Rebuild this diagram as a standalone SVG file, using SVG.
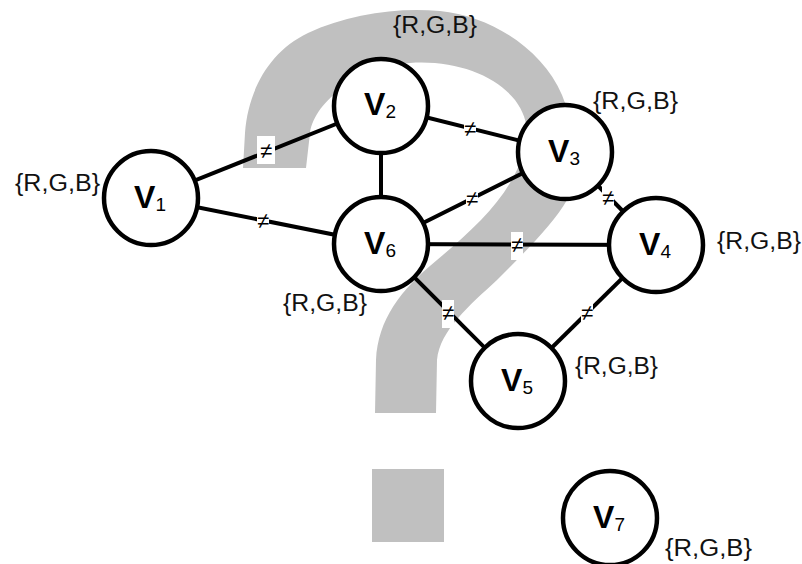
<svg xmlns="http://www.w3.org/2000/svg" width="802" height="564" viewBox="0 0 802 564">
  <style>
    .qm { fill: #c0c0c0; }
    .edge { stroke: #000; stroke-width: 4; fill: none; }
    .node circle { fill: #fff; stroke: #000; stroke-width: 4.5; }
    .name { font-family: "Liberation Sans", Arial, sans-serif; font-size: 32px; font-weight: bold; fill: #000; text-anchor: middle; }
    .sub { font-size: 19px; font-weight: normal; }
    .dom { font-family: "Liberation Sans", Arial, sans-serif; font-size: 23px; fill: #111; }
    .ne-bg { fill: #fff; }
    .ne { font-family: "Liberation Sans", Arial, sans-serif; font-size: 22px; fill: #000; text-anchor: middle; }
  </style>

  <!-- background question mark -->
  <g id="question-mark">
    <path class="qm" d="M 243,168 L 245,133 C 248,92 268,52 308,33 C 348,14 398,7 440,11 C 490,16 542,48 562,95 C 577,132 580,172 567,200 C 555,222 525,252 497,280 C 470,305 440,330 437,360 L 436,413 L 375,413 L 376,360 C 378,320 400,290 437,260 C 475,228 505,200 520,163 C 530,140 530,120 515,100 C 495,75 455,60 410,63 C 360,68 315,100 310,133 L 306,168 Z"/>
    <rect class="qm" x="372" y="469" width="72" height="73"/>
  </g>

  <!-- constraint edges -->
  <g id="edges">
    <line class="edge" x1="151" y1="198" x2="381" y2="106"/>
    <line class="edge" x1="151" y1="198" x2="381" y2="244"/>
    <line class="edge" x1="381" y1="106" x2="381" y2="244"/>
    <line class="edge" x1="381" y1="106" x2="565" y2="152"/>
    <line class="edge" x1="565" y1="152" x2="381" y2="244"/>
    <line class="edge" x1="565" y1="152" x2="656" y2="245"/>
    <line class="edge" x1="381" y1="244" x2="656" y2="245"/>
    <line class="edge" x1="381" y1="244" x2="518" y2="381"/>
    <line class="edge" x1="656" y1="245" x2="518" y2="381"/>

    <!-- inequality marks -->
    <rect class="ne-bg" x="257" y="136" width="18" height="28"/>
    <text class="ne" x="266" y="158">≠</text>
    <rect class="ne-bg" x="257" y="209" width="12" height="22"/>
    <text class="ne" x="263" y="228">≠</text>
    <rect class="ne-bg" x="464" y="117" width="12" height="22"/>
    <text class="ne" x="470" y="136">≠</text>
    <rect class="ne-bg" x="466" y="187" width="12" height="22"/>
    <text class="ne" x="472" y="206">≠</text>
    <rect class="ne-bg" x="602" y="186" width="12" height="22"/>
    <text class="ne" x="608" y="205">≠</text>
    <rect class="ne-bg" x="511" y="232" width="12" height="28"/>
    <text class="ne" x="517" y="252">≠</text>
    <rect class="ne-bg" x="442" y="300" width="12" height="28"/>
    <text class="ne" x="448" y="320">≠</text>
    <rect class="ne-bg" x="581" y="301" width="12" height="22"/>
    <text class="ne" x="587" y="320">≠</text>
  </g>

  <!-- variable nodes -->
  <g id="v1" class="node">
    <circle cx="151" cy="198" r="47"/>
    <text class="name" x="150" y="208">V<tspan class="sub" dy="3">1</tspan></text>
    <text class="dom" x="15" y="191" textLength="85" lengthAdjust="spacingAndGlyphs">{R,G,B}</text>
  </g>
  <g id="v2" class="node">
    <circle cx="381" cy="106" r="47"/>
    <text class="name" x="380" y="115">V<tspan class="sub" dy="3">2</tspan></text>
    <text class="dom" x="393" y="33" textLength="84" lengthAdjust="spacingAndGlyphs">{R,G,B}</text>
  </g>
  <g id="v3" class="node">
    <circle cx="565" cy="152" r="47"/>
    <text class="name" x="564" y="162">V<tspan class="sub" dy="3">3</tspan></text>
    <text class="dom" x="593" y="109" textLength="85" lengthAdjust="spacingAndGlyphs">{R,G,B}</text>
  </g>
  <g id="v4" class="node">
    <circle cx="656" cy="245" r="47"/>
    <text class="name" x="655" y="255">V<tspan class="sub" dy="3">4</tspan></text>
    <text class="dom" x="717" y="249" textLength="84" lengthAdjust="spacingAndGlyphs">{R,G,B}</text>
  </g>
  <g id="v5" class="node">
    <circle cx="518" cy="381" r="47"/>
    <text class="name" x="517" y="391">V<tspan class="sub" dy="3">5</tspan></text>
    <text class="dom" x="575" y="374" textLength="83" lengthAdjust="spacingAndGlyphs">{R,G,B}</text>
  </g>
  <g id="v6" class="node">
    <circle cx="381" cy="244" r="47"/>
    <text class="name" x="380" y="254">V<tspan class="sub" dy="3">6</tspan></text>
    <text class="dom" x="283" y="311" textLength="84" lengthAdjust="spacingAndGlyphs">{R,G,B}</text>
  </g>
  <g id="v7" class="node">
    <circle cx="610" cy="518" r="47"/>
    <text class="name" x="609" y="528">V<tspan class="sub" dy="3">7</tspan></text>
    <text class="dom" x="665" y="556" textLength="87" lengthAdjust="spacingAndGlyphs">{R,G,B}</text>
  </g>
</svg>
